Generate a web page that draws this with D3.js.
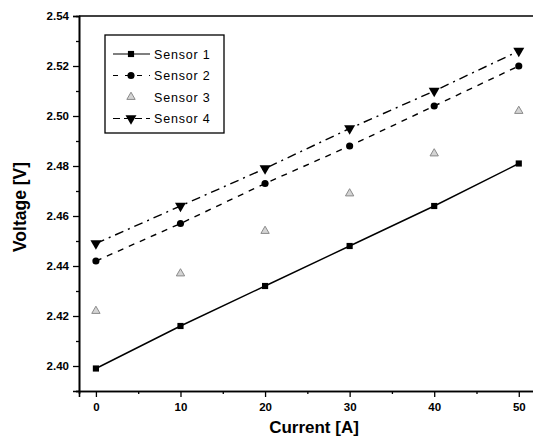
<!DOCTYPE html>
<html lang="en">
<head>
  <meta charset="UTF-8">
  <title>Sensor voltage</title>
  <style>
    body { margin: 0; background: #fff; }
    .tick text { font-family: "Liberation Sans", Arial, sans-serif; font-weight: bold; font-size: 11.5px; }
  </style>
</head>
<body>
  <div id="main"></div>
  <script src="https://cdn.jsdelivr.net/npm/d3@7/dist/d3.min.js"></script>
  <script>
    // data
    let currents = [0, 10, 20, 30, 40, 50]
    let sensor1 = [2.399, 2.416, 2.432, 2.448, 2.464, 2.481]
    let sensor2 = [2.442, 2.457, 2.473, 2.488, 2.504, 2.520]
    let sensor3 = [2.422, 2.437, 2.454, 2.469, 2.485, 2.502]
    let sensor4 = [2.449, 2.464, 2.479, 2.495, 2.510, 2.526]
    let seriesNames = ['Sensor 1', 'Sensor 2', 'Sensor 3', 'Sensor 4']
    let xTicks = [0, 10, 20, 30, 40, 50]
    let yTicks = [2.40, 2.42, 2.44, 2.46, 2.48, 2.50, 2.52, 2.54]

    let W = 533, H = 445
    let pLeft = 79, pTop = 16, pRight = 534, pBottom = 391

    let svg = d3.select('#main').append('svg')
      .attr('width', W).attr('height', H)
      .style('font-family', '"Liberation Sans", Arial, sans-serif')

    let x = d3.scaleLinear().domain([-2, 51.8]).range([pLeft, pRight])
    let y = d3.scaleLinear().domain([2.39, 2.54]).range([pBottom, pTop])

    let series = [
      { name: seriesNames[0], values: sensor1, symbol: d3.symbolSquare, size: 38, dash: null, line: true, fill: '#000' },
      { name: seriesNames[1], values: sensor2, symbol: d3.symbolCircle, size: 40, dash: '6,6', line: true, fill: '#000' },
      { name: seriesNames[2], values: sensor3, symbol: d3.symbolTriangle, size: 30, dash: null, line: false, fill: '#d4d4d4' },
      { name: seriesNames[3], values: sensor4, symbol: d3.symbolTriangle, size: 52, dash: '9,5,2,5', line: true, fill: '#000', down: true }
    ]

    function drawAxes() {
      // minor ticks
      let xMinor = d3.axisBottom(x).tickValues(d3.range(5, 50, 10)).tickSize(3).tickFormat('')
      let yMinor = d3.axisLeft(y).tickValues(d3.range(2.39, 2.535, 0.02)).tickSize(3).tickFormat('')
      svg.append('g').attr('transform', `translate(0,${pBottom})`).call(xMinor)
      svg.append('g').attr('transform', `translate(${pLeft},0)`).call(yMinor)

      let xAxis = d3.axisBottom(x).tickValues(xTicks).tickSize(6).tickPadding(6).tickFormat(d3.format('d'))
      let yAxis = d3.axisLeft(y).tickValues(yTicks).tickSize(6).tickPadding(4).tickFormat(d3.format('.2f'))
      svg.append('g').attr('transform', `translate(0,${pBottom})`).call(xAxis)
      svg.append('g').attr('transform', `translate(${pLeft},0)`).call(yAxis)

      svg.selectAll('.domain').attr('stroke', '#000').attr('stroke-width', 1.6)
      svg.selectAll('.tick line').attr('stroke', '#000').attr('stroke-width', 1.3)

      // top frame line
      svg.append('line')
        .attr('x1', pLeft).attr('x2', pRight)
        .attr('y1', pTop).attr('y2', pTop)
        .attr('stroke', '#000').attr('stroke-width', 1.6)

      svg.append('text')
        .attr('x', 314).attr('y', 433)
        .attr('text-anchor', 'middle')
        .attr('font-weight', 'bold').attr('font-size', 17)
        .text('Current [A]')

      svg.append('text')
        .attr('transform', `translate(26,207) rotate(-90)`)
        .attr('text-anchor', 'middle')
        .attr('font-weight', 'bold').attr('font-size', 17.5)
        .text('Voltage [V]')
    }

    function symbolPath(s) {
      return d3.symbol().type(s.symbol).size(s.size)()
    }

    function drawSeries() {
      series.forEach(s => {
        let pts = currents.map((c, i) => [x(c), y(s.values[i])])
        if (s.line) {
          svg.append('path')
            .attr('d', d3.line()(pts))
            .attr('fill', 'none')
            .attr('stroke', '#000')
            .attr('stroke-width', 1.4)
            .attr('stroke-dasharray', s.dash)
        }
        svg.append('g').selectAll('path')
          .data(pts)
          .join('path')
          .attr('d', symbolPath(s))
          .attr('transform', d => `translate(${d[0]},${d[1]})` + (s.down ? ' rotate(180)' : ''))
          .attr('fill', s.fill)
          .attr('stroke', s.fill === '#000' ? 'none' : '#8a8a8a')
          .attr('stroke-width', 1)
      })
    }

    function drawLegend() {
      let g = svg.append('g')
      g.append('rect')
        .attr('x', 105).attr('y', 35)
        .attr('width', 119).attr('height', 98)
        .attr('fill', '#fff').attr('stroke', '#000').attr('stroke-width', 1.3)
      series.forEach((s, i) => {
        let yy = 54 + i * 21.5
        if (s.line) {
          g.append('line')
            .attr('x1', 113).attr('x2', 150)
            .attr('y1', yy).attr('y2', yy)
            .attr('stroke', '#000').attr('stroke-width', 1.2)
            .attr('stroke-dasharray', s.dash ? (i === 1 ? '5,7' : '7,4') : null)
        }
        g.append('path')
          .attr('d', symbolPath(s))
          .attr('transform', `translate(131,${yy})` + (s.down ? ' rotate(180)' : ''))
          .attr('fill', s.fill)
          .attr('stroke', s.fill === '#000' ? 'none' : '#8a8a8a')
        g.append('text')
          .attr('x', 154).attr('y', yy + 4.5)
          .attr('font-size', 12.5)
          .attr('letter-spacing', 0.8)
          .text(s.name)
      })
    }

    drawAxes()
    drawSeries()
    drawLegend()
  </script>
</body>
</html>
